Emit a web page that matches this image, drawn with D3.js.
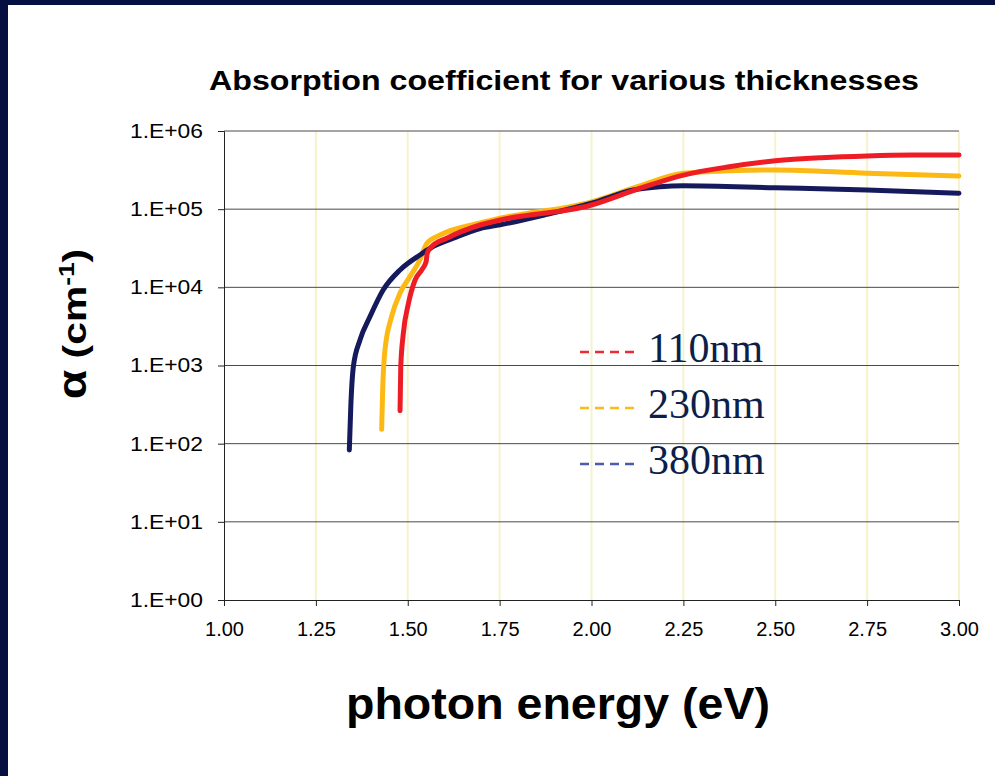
<!DOCTYPE html>
<html><head><meta charset="utf-8">
<script src="https://cdn.jsdelivr.net/npm/d3@7"></script>
<style>body{margin:0;background:#fff}svg{display:block}</style>
</head><body><svg id="c" width="995" height="776"></svg>
<script>
// ---- data ----
const seriesNames = ["110nm", "230nm", "380nm"];
const energy110 = [1.479,1.481,1.488,1.502,1.520,1.538,1.550,1.553,1.565,1.606,1.697,1.751,2.000,2.125,2.250,2.375,2.500,2.625,2.750,2.875,3.000];
const alpha110  = [264,966,2580,6250,12400,16700,21300,27200,33100,42400,62700,72600,113000,180000,273000,349000,415000,455000,480000,492000,493000];
const energy230 = [1.429,1.432,1.438,1.456,1.479,1.506,1.533,1.552,1.588,1.697,1.751,2.000,2.125,2.250,2.375,2.500,2.750,3.000];
const alpha230  = [153,535,1580,4210,8460,13700,22400,36600,46700,66500,76400,124000,194000,288000,310000,317000,288000,266000];
const energy380 = [1.341,1.345,1.352,1.370,1.397,1.433,1.479,1.533,1.561,1.624,1.697,1.751,1.875,2.000,2.114,2.186,2.250,2.500,2.750,3.000];
const alpha380  = [83,297,966,2120,4200,9250,16700,25900,31600,42400,56500,63000,85000,119000,176000,194000,200000,188000,176000,160000];
const xTicks = [1.00,1.25,1.50,1.75,2.00,2.25,2.50,2.75,3.00];
const yTicks = [1,10,100,1000,10000,100000,1000000];
const titleText = "Absorption coefficient for various thicknesses";
const xTitle = "photon energy (eV)";

// ---- styles ----
const lineColors = {"110nm":"#ee1c25","230nm":"#fdb913","380nm":"#141a5c"};
const legendColors = {"110nm":"#ee2a33","230nm":"#fdbb1a","380nm":"#4b5bb0"};
const sansFont = "'Liberation Sans', Arial, sans-serif";
const serifFont = "'Liberation Serif', 'Times New Roman', serif";

const svg = d3.select("#c");
svg.append("rect").attr("width",995).attr("height",776).attr("fill","#fff");
// border (top + left)
svg.append("rect").attr("x",0).attr("y",0).attr("width",995).attr("height",5).attr("fill","#061040");
svg.append("rect").attr("x",0).attr("y",0).attr("width",8).attr("height",776).attr("fill","#061040");

const x = d3.scaleLinear().domain([1,3]).range([224,959]);
const y = d3.scaleLog().domain([1,1e6]).range([600,131]);

// vertical grid
svg.append("g").selectAll("line").data(xTicks.slice(1)).join("line")
  .attr("x1",d=>x(d)).attr("x2",d=>x(d)).attr("y1",y(1e6)).attr("y2",y(1))
  .attr("stroke","#f6f3cc").attr("stroke-width",2);
// horizontal grid
svg.append("g").selectAll("line").data(yTicks.slice(1)).join("line")
  .attr("x1",x(1)).attr("x2",x(3)).attr("y1",d=>y(d)).attr("y2",d=>y(d))
  .attr("stroke","#4a4a4a").attr("stroke-width",1);

// axes
const yAxis = svg.append("g").attr("transform",`translate(${x(1)},0)`)
  .call(d3.axisLeft(y).tickValues(yTicks).tickSize(6).tickPadding(15)
    .tickFormat(d => "1.E+" + String(Math.round(Math.log10(d))).padStart(2,"0")));
const xAxis = svg.append("g").attr("transform",`translate(0,${y(1)})`)
  .call(d3.axisBottom(x).tickValues(xTicks).tickSize(6).tickPadding(16).tickFormat(d3.format(".2f")));
[yAxis,xAxis].forEach(g=>{
  g.select(".domain").attr("stroke","#222");
  g.selectAll(".tick line").attr("stroke","#222");
  g.selectAll("text").attr("font-family",sansFont).attr("font-size",20).attr("fill","#000");
});
yAxis.selectAll("text").attr("textLength",73).attr("lengthAdjust","spacingAndGlyphs");

// lines
const series = [
  {name:"230nm", e:energy230, a:alpha230},
  {name:"380nm", e:energy380, a:alpha380},
  {name:"110nm", e:energy110, a:alpha110}
];
const line = d3.line().x(d=>x(d[0])).y(d=>y(d[1])).curve(d3.curveMonotoneX);
series.forEach(s=>{
  svg.append("path").datum(s.e.map((v,i)=>[v,s.a[i]]))
    .attr("d",line).attr("fill","none").attr("stroke",lineColors[s.name])
    .attr("stroke-width",5).attr("stroke-linecap","round").attr("stroke-linejoin","round");
});

// legend
const legY = [352,408,464];
seriesNames.forEach((n,i)=>{
  svg.append("line").attr("x1",580).attr("x2",634).attr("y1",legY[i]).attr("y2",legY[i])
    .attr("stroke",legendColors[n]).attr("stroke-width",2.5).attr("stroke-dasharray","9,6");
  svg.append("text").attr("x",648).attr("y",legY[i]+10).attr("font-family",serifFont)
    .attr("font-size",42).attr("fill","#0c1f4b").text(n);
});

// titles
svg.append("text").attr("x",564).attr("y",90).attr("text-anchor","middle")
  .attr("font-family",sansFont).attr("font-weight","bold").attr("font-size",28)
  .attr("textLength",710).attr("lengthAdjust","spacingAndGlyphs").text(titleText);
svg.append("text").attr("x",558).attr("y",719).attr("text-anchor","middle")
  .attr("font-family",sansFont).attr("font-weight","bold").attr("font-size",44)
  .attr("textLength",424).attr("lengthAdjust","spacingAndGlyphs").text(xTitle);
const yt = svg.append("text").attr("transform","translate(86,324) rotate(-90) scale(1.2,1)")
  .attr("text-anchor","middle").attr("font-family",sansFont).attr("font-weight","bold")
  .attr("font-size",34).attr("fill","#000");
yt.append("tspan").attr("font-size",40).text("α");
yt.append("tspan").text(" (cm");
yt.append("tspan").attr("font-size",22).attr("dy",-12).text("-1");
yt.append("tspan").attr("dy",12).text(")");
</script></body></html>
